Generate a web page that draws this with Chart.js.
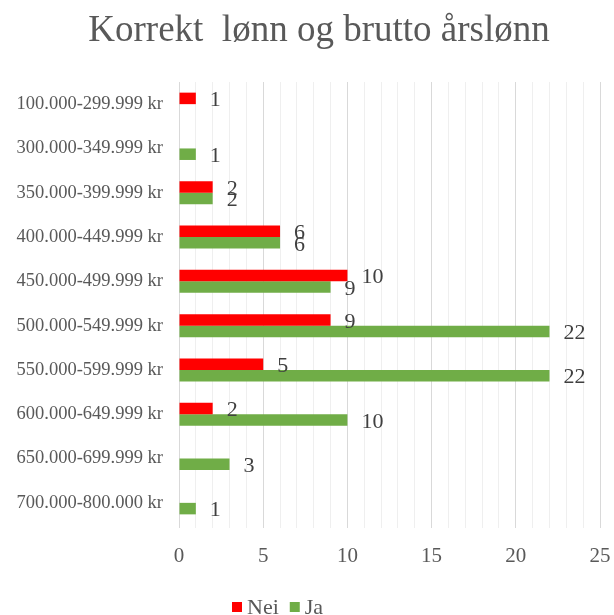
<!DOCTYPE html>
<html>
<head>
<meta charset="utf-8">
<script src="https://cdn.jsdelivr.net/npm/chart.js@4.4.1/dist/chart.umd.min.js"></script>
<style>
    html, body { margin: 0; padding: 0; background: #fff; }
    #wrap { width: 614px; height: 615px; }
</style>
</head>
<body>
<div id="wrap"><canvas id="myChart"></canvas></div>
<script>
const categories = [
    "100.000-299.999 kr",
    "300.000-349.999 kr",
    "350.000-399.999 kr",
    "400.000-449.999 kr",
    "450.000-499.999 kr",
    "500.000-549.999 kr",
    "550.000-599.999 kr",
    "600.000-649.999 kr",
    "650.000-699.999 kr",
    "700.000-800.000 kr"
];
const neiValues = [1, null, 2, 6, 10, 9, 5, 2, null, null];
const jaValues = [null, 1, 2, 6, 9, 22, 22, 10, 3, 1];
const xTicks = [0, 5, 10, 15, 20, 25];
const chartTitle = 'Korrekt  lønn og brutto årslønn';

const serif = "'Liberation Serif', 'Times New Roman', serif";

// value labels right of the bars
const valueLabels = {
    id: 'valueLabels',
    afterDatasetsDraw(chart) {
        const c = chart.ctx;
        c.save();
        c.font = "22px " + serif;
        c.fillStyle = "#404040";
        c.textAlign = "left";
        c.textBaseline = "middle";
        chart.data.datasets.forEach((ds, i) => {
            const meta = chart.getDatasetMeta(i);
            meta.data.forEach((bar, j) => {
                const v = ds.data[j];
                if (v === null || v === undefined) return;
                c.fillText(String(v), bar.x + 14, bar.y + 2);
            });
        });
        c.restore();
    }
};

// title and legend placed like the excel original (not centred on the canvas)
const titleAndLegend = {
    id: 'titleAndLegend',
    afterDraw(chart) {
        const c = chart.ctx;
        c.save();
        c.fillStyle = '#595959';
        c.font = "37px " + serif;
        c.textAlign = 'center';
        c.textBaseline = 'middle';
        c.fillText(chartTitle, 319, 31);

        c.font = "22px " + serif;
        c.textAlign = 'left';
        let x = 232;
        const y = 607;
        chart.data.datasets.forEach(ds => {
            c.fillStyle = ds.backgroundColor;
            c.fillRect(x, y - 5, 10, 10);
            x += 15;
            c.fillStyle = '#595959';
            c.fillText(ds.label, x, y + 1);
            x += c.measureText(ds.label).width + 11;
        });
        c.restore();
    }
};

const ctx = document.getElementById('myChart');
new Chart(ctx, {
    type: 'bar',
    data: {
        labels: categories,
        datasets: [
            {
                label: 'Nei',
                data: neiValues,
                backgroundColor: '#FF0000',
                categoryPercentage: 0.52,
                barPercentage: 1
            },
            {
                label: 'Ja',
                data: jaValues,
                backgroundColor: '#70AD47',
                categoryPercentage: 0.52,
                barPercentage: 1
            }
        ]
    },
    options: {
        indexAxis: 'y',
        responsive: true,
        maintainAspectRatio: false,
        animation: false,
        layout: { padding: { left: 0, right: 0, top: 82, bottom: 32 } },
        plugins: {
            title: { display: false },
            legend: { display: false },
            tooltip: { enabled: false }
        },
        scales: {
            x: {
                min: 0,
                max: 25,
                afterBuildTicks: (scale) => {
                    const t = [];
                    for (let v = 0; v <= 25; v++) t.push({ value: v });
                    scale.ticks = t;
                },
                afterFit: (scale) => {
                    scale.height = 58;
                    scale.paddingLeft = 0;
                    scale.paddingRight = 14;
                },
                ticks: {
                    autoSkip: false,
                    maxRotation: 0,
                    padding: 16,
                    color: '#595959',
                    font: { family: serif, size: 21 },
                    callback: (v) => xTicks.includes(v) ? String(v) : ''
                },
                grid: {
                    color: (c) => (c.tick && c.tick.value % 5 === 0) ? '#d9d9d9' : '#efefef',
                    tickLength: 3
                },
                border: { display: false }
            },
            y: {
                afterFit: (scale) => { scale.width = 179; },
                ticks: {
                    padding: 8,
                    color: '#595959',
                    font: { family: serif, size: 18.5 }
                },
                grid: { display: false },
                border: { display: false }
            }
        }
    },
    plugins: [valueLabels, titleAndLegend]
});
</script>
</body>
</html>
